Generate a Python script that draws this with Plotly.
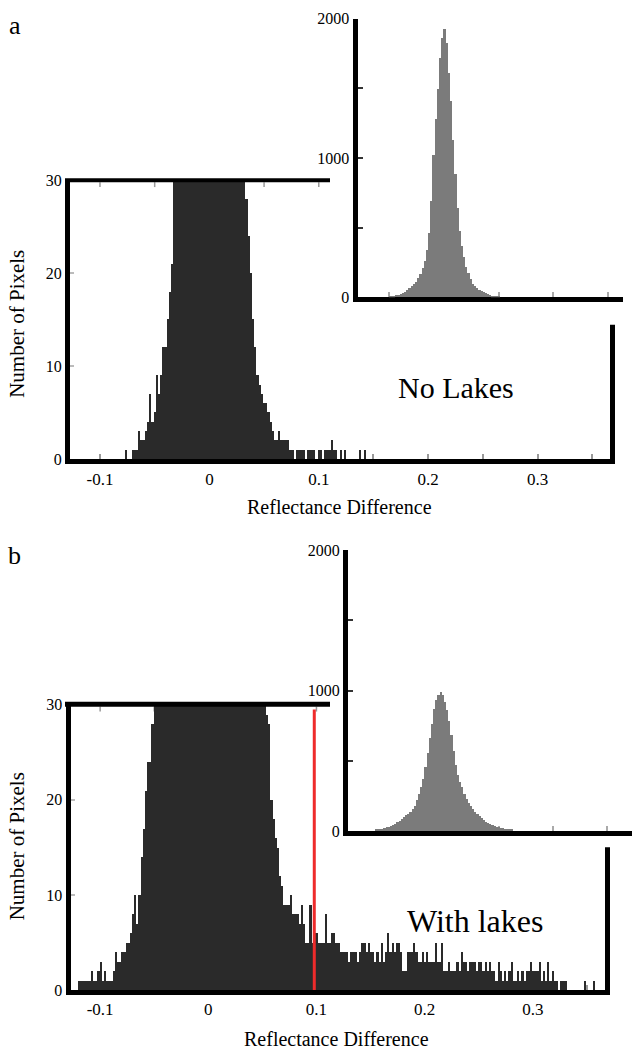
import plotly.graph_objects as go

# ---------------- data ----------------
BIN = 0.002

# panel a main histogram: bins centred from -0.080 in steps of 0.002
a_main_start = -0.080
a_main_counts = [
    0, 0, 1, 0, 0, 1, 1, 1, 3, 2, 2, 3, 4, 7, 4, 5, 9, 7, 9, 12, 12, 15, 18, 21, 35,
    42, 55, 70, 90, 115, 145, 180, 225, 280, 350, 430, 520, 620, 720, 810, 860,
    820, 740, 650, 560, 470, 390, 320, 260, 210, 165, 130, 100, 75, 55, 40,
    32, 28, 24, 20, 15, 12, 9, 8, 7, 6, 6, 5, 4, 3, 2, 2, 3, 2, 2, 2, 2, 1, 1, 0,
    1, 1, 1, 1, 0, 1, 1, 1, 1, 0, 1, 1, 0, 1, 1, 1, 2, 1, 1, 0, 1, 0, 1, 0, 0, 0,
    0, 0, 0, 1, 0, 1, 0, 0, 0,
]

# panel a inset histogram
a_inset_start = -0.050
a_inset_counts = [
    5, 8, 11, 15, 20, 27, 33, 42, 53, 65, 80, 97, 113, 140, 170, 210, 265, 340,
    460, 690, 1020, 1280, 1500, 1720, 1860, 1930, 1830, 1610, 1410, 1130, 890,
    640, 480, 370, 290, 220, 175, 130, 100, 82, 68, 56, 45, 36, 29, 23, 18, 14,
    10, 7, 5,
]

# panel b main histogram
b_main_start = -0.120
b_main_counts = [
    1, 1, 1, 1, 1, 1, 2, 1, 1, 2, 3, 1, 2, 1, 1, 1, 2, 4, 3, 3, 4, 4, 5, 5, 6, 8,
    10, 7, 10, 14, 17, 21, 24, 24, 28, 33,
    36, 42, 50, 58, 68, 80, 92, 106, 122, 140, 160, 182, 205, 232, 260, 290, 320,
    352, 385, 415, 445, 470, 490, 500, 505, 498, 485, 465, 440, 410, 380, 350,
    318, 286, 255, 225, 198, 172, 148, 126, 107, 90, 76, 64, 54, 46, 42, 39, 36,
    33, 31, 29, 28, 20, 18, 16, 15, 12, 11, 9, 9, 9, 10, 8, 8, 8, 7, 9, 7, 5, 5,
    9, 5, 6, 6, 5, 5, 5, 8, 5, 5, 6, 6, 5, 5, 4, 4, 4, 4, 3, 4, 4, 4, 3, 4, 5, 5,
    4, 5, 4,
    4, 3, 4, 3, 5, 3, 4, 6, 4, 5, 4, 5, 5, 4, 2, 2, 4, 4, 4, 5, 4, 3, 3, 4, 3, 4,
    3, 3, 3, 5, 3, 3, 5, 2, 2, 3, 2, 2, 2, 3, 2, 4, 3, 3, 2, 3, 3, 3, 2, 3, 3, 2,
    3, 2, 3, 2, 2, 1, 3, 2, 1, 2, 1, 2, 3, 1, 1, 2, 1, 2, 1, 2, 2, 3, 2, 2, 2, 3,
    1, 2, 1, 3, 1, 2, 1, 1, 0, 1, 1, 1, 0, 0, 0, 0, 0, 0, 0, 0, 1, 0, 0, 0, 1,
]

# panel b inset histogram
b_inset_start = -0.064
b_inset_counts = [
    9, 12, 14, 17, 21, 26, 31, 38, 45, 52, 61, 72, 85, 97, 110, 122, 138, 155,
    180, 220, 260, 310, 370, 455, 553, 665, 760, 870, 930, 965, 990, 970,
    920, 860, 786, 680, 570, 470, 400, 350, 310, 265, 225, 198, 175, 155, 135,
    120, 105, 90, 78, 67, 56, 48, 41, 35, 30, 26, 22, 19, 16, 14, 11, 8,
]

main_tickvals = [-0.1, -0.05, 0, 0.05, 0.1, 0.15, 0.2, 0.25, 0.3, 0.35]
main_ticktext = ["-0.1", "", "0", "", "0.1", "", "0.2", "", "0.3", ""]
main_yticks = [0, 10, 20, 30]
inset_xticks = [-0.05, 0, 0.05, 0.1, 0.15]
inset_yticks = [0, 500, 1000, 1500, 2000]
inset_yticktext = ["0", "", "1000", "", "2000"]
threshold_b = 0.098


def centers(start, counts):
    return [round(start + BIN * i, 4) for i in range(len(counts))]


# ---------------- layout helpers ----------------
W, H = 633, 1061
FONT = "Liberation Serif"


def fx(p):
    return p / W


def fy(p):
    return 1 - p / H


fig = go.Figure()

MAIN_COLOR = "#2a2a2a"
INSET_COLOR = "#7b7b7b"

fig.add_trace(go.Bar(x=centers(a_main_start, a_main_counts), y=a_main_counts,
                     width=BIN, marker=dict(color=MAIN_COLOR, line=dict(width=0)),
                     xaxis="x", yaxis="y", showlegend=False))
fig.add_trace(go.Bar(x=centers(b_main_start, b_main_counts), y=b_main_counts,
                     width=BIN, marker=dict(color=MAIN_COLOR, line=dict(width=0)),
                     xaxis="x2", yaxis="y2", showlegend=False))
fig.add_trace(go.Bar(x=centers(a_inset_start, a_inset_counts), y=a_inset_counts,
                     width=BIN, marker=dict(color=INSET_COLOR, line=dict(width=0)),
                     xaxis="x3", yaxis="y3", showlegend=False))
fig.add_trace(go.Bar(x=centers(b_inset_start, b_inset_counts), y=b_inset_counts,
                     width=BIN, marker=dict(color=INSET_COLOR, line=dict(width=0)),
                     xaxis="x4", yaxis="y4", showlegend=False))

tickfont_x = dict(family=FONT, size=17, color="black")
tickfont_y = dict(family=FONT, size=16, color="black")


def main_x(domain, rng, anchor):
    return dict(domain=domain, range=rng, anchor=anchor, showline=True,
                linewidth=5, linecolor="black", ticks="inside", ticklen=5,
                tickwidth=1.5, tickcolor="#999999", tickmode="array",
                tickvals=main_tickvals, ticktext=main_ticktext,
                tickfont=tickfont_x, showgrid=False, zeroline=False,
                layer="below traces", fixedrange=True)


def main_y(domain, anchor):
    return dict(domain=domain, range=[0, 30], anchor=anchor, showline=True,
                linewidth=5, linecolor="black", ticks="inside", ticklen=4,
                tickwidth=1.5, tickcolor="#bbbbbb", tickmode="array",
                tickvals=main_yticks, tickfont=tickfont_y, showgrid=False,
                zeroline=False, layer="below traces", fixedrange=True)


def inset_x(domain, rng, anchor):
    return dict(domain=domain, range=rng, anchor=anchor, showline=True,
                linewidth=5, linecolor="black", ticks="inside", ticklen=5,
                tickwidth=1.5, tickcolor="#aaaaaa", tickmode="array",
                tickvals=inset_xticks, showticklabels=False, showgrid=False,
                zeroline=False, layer="below traces", fixedrange=True)


def inset_y(domain, anchor):
    return dict(domain=domain, range=[0, 2000], anchor=anchor, showline=True,
                linewidth=5, linecolor="black", ticks="inside", ticklen=5,
                tickwidth=2, tickcolor="#333333", tickmode="array",
                tickvals=inset_yticks, ticktext=inset_yticktext,
                tickfont=dict(family=FONT, size=16, color="black"),
                showgrid=False, zeroline=False, layer="below traces",
                fixedrange=True)


layout = dict(
    width=W, height=H, autosize=False,
    margin=dict(l=0, r=0, t=0, b=0, pad=0),
    paper_bgcolor="white", plot_bgcolor="white",
    bargap=0, barmode="overlay", showlegend=False,
    xaxis=main_x([fx(70), fx(610)], [-0.1274, 0.3662], "y"),
    yaxis=main_y([fy(458.5), fy(175)], "x"),
    xaxis2=main_x([fx(70.5), fx(605)], [-0.1274, 0.3668], "y2"),
    yaxis2=main_y([fy(998), fy(708)], "x2"),
    xaxis3=inset_x([fx(357.5), fx(623)], [-0.0792, 0.1639], "y3"),
    yaxis3=inset_y([fy(294), fy(11)], "x3"),
    xaxis4=inset_x([fx(348), fx(632)], [-0.0898, 0.1731], "y4"),
    yaxis4=inset_y([fy(836.5), fy(551)], "x4"),
)
fig.update_layout(**layout)

shapes = []
# partial top frame lines and right frame bars of main plots
shapes.append(dict(type="line", xref="paper", yref="paper", x0=fx(65), x1=fx(330),
                   y0=fy(175), y1=fy(175), line=dict(color="black", width=4)))
shapes.append(dict(type="line", xref="paper", yref="paper", x0=fx(612.5), x1=fx(612.5),
                   y0=fy(322), y1=fy(463.5), line=dict(color="black", width=5)))
shapes.append(dict(type="line", xref="paper", yref="paper", x0=fx(65), x1=fx(330),
                   y0=fy(707.5), y1=fy(707.5), line=dict(color="black", width=5)))
shapes.append(dict(type="line", xref="paper", yref="paper", x0=fx(607.5), x1=fx(607.5),
                   y0=fy(853), y1=fy(1003), line=dict(color="black", width=5)))
# small ticks hanging from the top frame lines
for tv in main_tickvals:
    if tv <= 0.1:
        shapes.append(dict(type="line", xref="x", yref="paper", x0=tv, x1=tv,
                           y0=fy(177), y1=fy(182), layer="below",
                           line=dict(color="#999999", width=1.5)))
        shapes.append(dict(type="line", xref="x2", yref="paper", x0=tv, x1=tv,
                           y0=fy(710), y1=fy(715), layer="below",
                           line=dict(color="#999999", width=1.5)))
# threshold line in panel b
shapes.append(dict(type="line", xref="x2", yref="y2", x0=threshold_b, x1=threshold_b,
                   y0=0, y1=29.5, line=dict(color="#ee2b2b", width=3)))
fig.update_layout(shapes=shapes)

ann = []


def text(t, x, y, size, angle=0):
    ann.append(dict(text=t, xref="paper", yref="paper", x=fx(x), y=fy(y),
                    xanchor="center", yanchor="middle", showarrow=False,
                    textangle=angle, font=dict(family=FONT, size=size, color="black")))


text("a", 15, 18, 26)
text("b", 15, 556, 26)
text("Number of Pixels", 17, 321, 21, -90)
text("Number of Pixels", 17, 852, 21, -90)
text("Reflectance Difference", 339, 507, 20)
text("Reflectance Difference", 336, 1048, 20)
text("No Lakes", 456, 386, 30)
text("With lakes", 475, 928, 32)
fig.update_layout(annotations=ann)

fig.write_html("out.html")
